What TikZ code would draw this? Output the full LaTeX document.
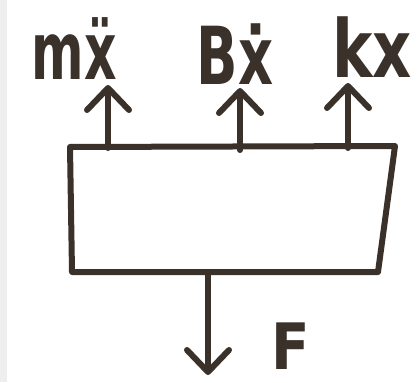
\documentclass[tikz,border=0pt]{standalone}
\usepackage{fontspec}
\setmainfont{DejaVu Sans}
\usetikzlibrary{arrows.meta}
\definecolor{inkc}{HTML}{3A322A}
\definecolor{stripc}{HTML}{EEEEEE}
\begin{document}
\begin{tikzpicture}[x=1pt,y=-1pt,
  ink/.style={draw=inkc, line width=6pt, line join=round, line cap=round},
  force/.style={ink, -{Straight Barb[length=22pt,width=42pt,line width=6pt,round]}},
  lbl/.style={text=inkc, font=\fontsize{80}{80}\selectfont\bfseries, inner sep=0pt, anchor=base}
]
\fill[white] (0,0) rectangle (419,382);
\fill[stripc] (0,0) rectangle (7,382);
\useasboundingbox (0,0) rectangle (419,382);
% body
\coordinate (tl) at (70,147);
\coordinate (tr) at (395,146);
\coordinate (br) at (378,272);
\coordinate (bl) at (72,272);
\draw[ink] (tl) -- (tr) -- (br) -- (bl) -- cycle;
% force points
\coordinate (a1) at (108,148);
\coordinate (a2) at (240,150);
\coordinate (a3) at (348,148);
\coordinate (h1) at (108,85);
\coordinate (h2) at (240,88);
\coordinate (h3) at (348,83);
\coordinate (d0) at (208,272);
\coordinate (d1) at (208,375);
% labels
\node[lbl, xscale=0.63] (l1) at (74,80) {mẍ};
\node[lbl, xscale=0.68] (l2) at (235,85) {Bẋ};
\node[lbl, xscale=0.76] (l3) at (372,78) {kx};
\node[lbl, font=\fontsize{64}{64}\selectfont\bfseries, xscale=0.88] (lf) at (291,369) {F};
% arrows
\draw[force] (a1) -- (h1);
\draw[force] (a2) -- (h2);
\draw[force] (a3) -- (h3);
\draw[force] (d0) -- (d1);
\end{tikzpicture}
\end{document}
